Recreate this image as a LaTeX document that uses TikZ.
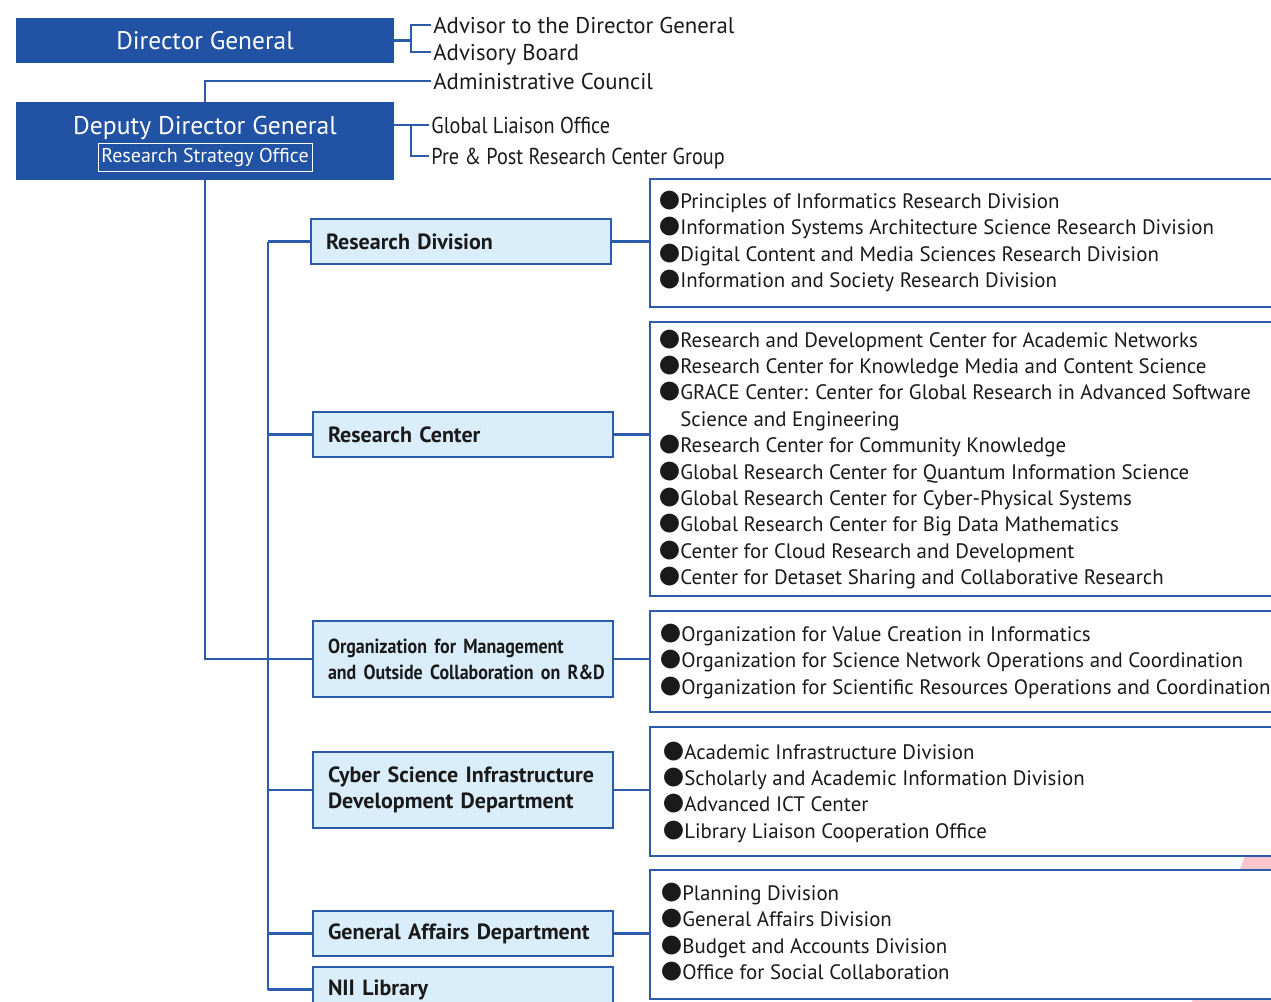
\documentclass[tikz,border=0pt]{standalone}
\usepackage{fontspec}
\setmainfont{PT Sans}
\newfontfamily\narrowfont[FakeStretch=0.88]{PT Sans}
\newfontfamily\bulletfont{Noto Sans CJK JP}
\definecolor{niiblue}{HTML}{2152A3}
\definecolor{niiline}{HTML}{2B5BAA}
\definecolor{niifill}{HTML}{D9EEFA}
\definecolor{niipink}{HTML}{F8C6CC}
\definecolor{niitext}{HTML}{1A1A1A}
\newcommand{\bul}{{\bulletfont ●}}
\begin{document}
\begin{tikzpicture}[x=0.5pt, y=-0.5pt,
  head/.style={fill=niiblue, text=white, minimum width=189pt, inner sep=0pt},
  unit/.style={draw=niiline, line width=0.7pt, fill=niifill, minimum width=150pt,
    text width=135pt, align=left, inner xsep=7.5pt, inner ysep=0pt, text=niitext,
    font=\fontsize{11}{13}\selectfont\bfseries},
  side/.style={anchor=west, inner sep=1pt, text height=8pt, text depth=0pt, text=niitext,
    font=\fontsize{11.4}{13}\selectfont},
  item/.style={anchor=west, inner sep=0pt, text height=7pt, text depth=0pt, text=niitext,
    font=\fontsize{10.45}{12}\selectfont},
  link/.style={draw=niiline, line width=1.1pt},
  frame/.style={draw=niiline, line width=0.75pt, fill=white}]

\useasboundingbox (0,0) rectangle (1271,1002);

% top of the chart
\node [head, minimum height=22.5pt, font=\fontsize{12.7}{14}\selectfont] (dg) at (205,40.5) {Director General};
\node [head, minimum height=39pt] (ddg) at (205,141) {};
\node [text=white, inner sep=0pt, text height=9pt, text depth=0pt, font=\fontsize{12.8}{14}\selectfont]
  (ddg-title) at (205,125) {Deputy Director General};
\node [draw=white, text=white, line width=0.5pt, minimum width=107pt, minimum height=14pt, inner sep=0pt,
  font=\fontsize{10}{12}\selectfont] (rso) at (205,157) {Research Strategy Office};

\node [side] (adv) at (431,25) {Advisor to the Director General};
\node [side] (board) at (431,52) {Advisory Board};
\node [side] (council) at (431,81) {Administrative Council};
\node [side, font=\fontsize{11.5}{13}\narrowfont] (gl) at (429,125) {Global Liaison Office};
\node [side, font=\fontsize{11.5}{13}\narrowfont] (pp) at (429,156) {Pre \& Post Research Center Group};

\coordinate (dg-fork) at (411,40.5);
\coordinate (ddg-fork) at (411,125);
\draw [link] (dg.east) -- (dg-fork);
\draw [link] (adv.west) -| (dg-fork) |- (board.west);
\draw [link] (ddg.north) |- (council.west);
\draw [link] (ddg.east |- gl.west) -- (gl.west);
\draw [link] (ddg-fork) |- (pp.west);

% units
\foreach \n/\x/\y/\h/\t in {rd/461/241.5/22.5/Research Division,
    rc/463/434.5/22.5/Research Center,
    org/463/659/38/{\fontsize{10.2}{12.5}\narrowfont\mbox{Organization for Management}\\\mbox{and Outside Collaboration on R\&D}},
    cs/463/790/38/{Cyber Science Infrastructure\\Development Department},
    ga/463/933.5/22.5/General Affairs Department,
    lib/463/989.5/22.5/NII Library}
  \node [unit, minimum height=\h pt] (\n) at (\x,\y) {\t};

\coordinate (spine) at (268,0);
\foreach \n in {rd,rc,org,cs,ga,lib}
  \draw [link] (\n.west) -- (\n.west -| spine);
\draw [link] (rd.west -| spine) -- (lib.west -| spine);
\draw [link] (ddg.south) |- (org.west);

% lists on the right
\fill [niipink] (1247,850) -- (1192,1002) -- (1280,1002) -- (1280,850) -- cycle;

\foreach \n/\t/\b in {rd/179/307, rc/322/596, org/611/712, cs/727/856, ga/870/999} {
  \draw [frame] (1290,\t) -| (650,\b) -- (1290,\b);
  \coordinate (\n-frame) at (650,\t);
  \draw [link] (\n.east) -- (\n.east -| \n-frame);
}

\foreach \t [count=\i from 0] in {\bul Principles of Informatics Research Division,
    \bul Information Systems Architecture Science Research Division,
    \bul Digital Content and Media Sciences Research Division,
    \bul Information and Society Research Division}
  \node [item] (rd-item-\i) at (659,201+26.6*\i) {\t};

\foreach \t [count=\i from 0] in {\bul Research and Development Center for Academic Networks,
    \bul Research Center for Knowledge Media and Content Science,
    \bul GRACE Center: Center for Global Research in Advanced Software,
    \hphantom{\bul}Science and Engineering,
    \bul Research Center for Community Knowledge,
    \bul Global Research Center for Quantum Information Science,
    \bul Global Research Center for Cyber-Physical Systems,
    \bul Global Research Center for Big Data Mathematics,
    \bul Center for Cloud Research and Development,
    \bul Center for Detaset Sharing and Collaborative Research}
  \node [item] (rc-item-\i) at (659,340+26.4*\i) {\t};

\foreach \t [count=\i from 0] in {\bul Organization for Value Creation in Informatics,
    \bul Organization for Science Network Operations and Coordination,
    \bul Organization for Scientific Resources Operations and Coordination}
  \node [item] (org-item-\i) at (660,634+26.5*\i) {\t};

\foreach \t [count=\i from 0] in {\bul Academic Infrastructure Division,
    \bul Scholarly and Academic Information Division,
    \bul Advanced ICT Center,
    \bul Library Liaison Cooperation Office}
  \node [item] (cs-item-\i) at (663,752+26.4*\i) {\t};

\foreach \t [count=\i from 0] in {\bul Planning Division,
    \bul General Affairs Division,
    \bul Budget and Accounts Division,
    \bul Office for Social Collaboration}
  \node [item] (ga-item-\i) at (661,893+26.6*\i) {\t};

\end{tikzpicture}
\end{document}
